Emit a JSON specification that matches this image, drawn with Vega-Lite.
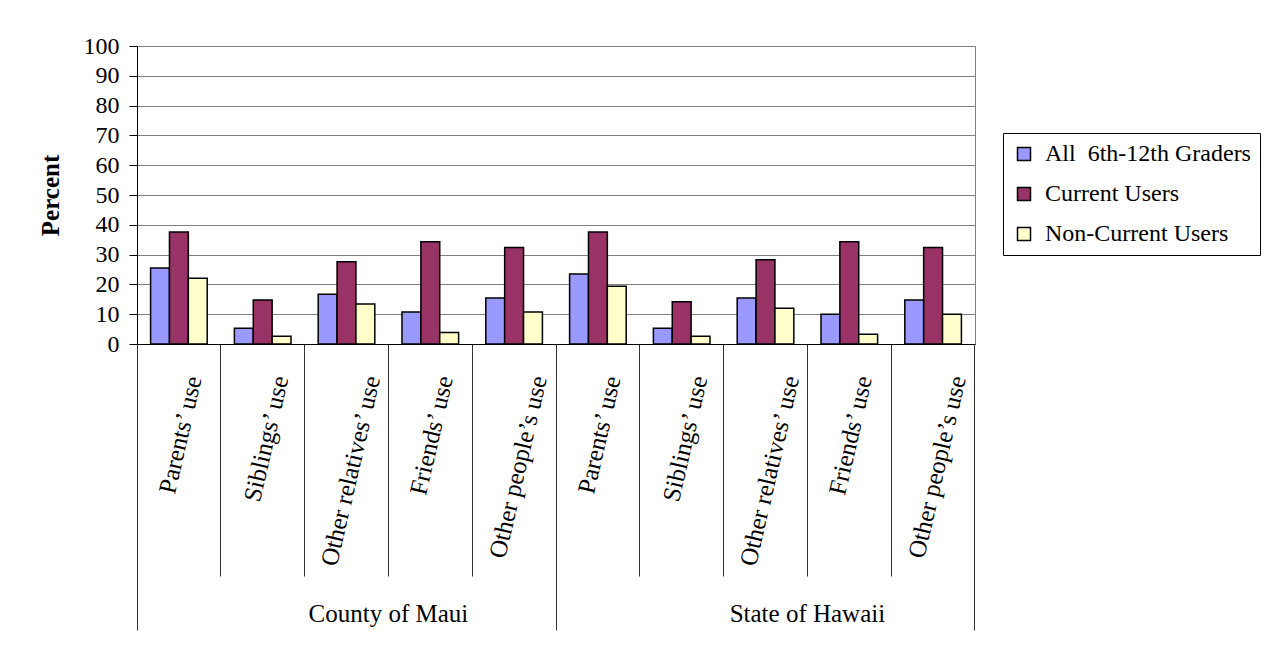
{
  "$schema": "https://vega.github.io/schema/vega-lite/v6.json",
  "width": 838,
  "height": 298,
  "autosize": {"type": "none"},
  "padding": {"left": 137, "top": 46, "right": 293, "bottom": 307},
  "background": "white",
  "config": {
    "view": {"stroke": "#808080", "strokeWidth": 1},
    "font": "Liberation Serif",
    "axis": {"labelFont": "Liberation Serif", "titleFont": "Liberation Serif", "labelColor": "#000", "titleColor": "#000"}
  },
  "data": {
    "values": [
      {"item": "County of Maui|Parents’ use", "series": "All\u00a0 6th-12th Graders", "value": 25.5},
      {"item": "County of Maui|Parents’ use", "series": "Current Users", "value": 37.6},
      {"item": "County of Maui|Parents’ use", "series": "Non-Current Users", "value": 22.1},
      {"item": "County of Maui|Siblings’ use", "series": "All\u00a0 6th-12th Graders", "value": 5.3},
      {"item": "County of Maui|Siblings’ use", "series": "Current Users", "value": 14.8},
      {"item": "County of Maui|Siblings’ use", "series": "Non-Current Users", "value": 2.6},
      {"item": "County of Maui|Other relatives’ use", "series": "All\u00a0 6th-12th Graders", "value": 16.7},
      {"item": "County of Maui|Other relatives’ use", "series": "Current Users", "value": 27.6},
      {"item": "County of Maui|Other relatives’ use", "series": "Non-Current Users", "value": 13.4},
      {"item": "County of Maui|Friends’ use", "series": "All\u00a0 6th-12th Graders", "value": 10.7},
      {"item": "County of Maui|Friends’ use", "series": "Current Users", "value": 34.3},
      {"item": "County of Maui|Friends’ use", "series": "Non-Current Users", "value": 3.9},
      {"item": "County of Maui|Other people’s use", "series": "All\u00a0 6th-12th Graders", "value": 15.4},
      {"item": "County of Maui|Other people’s use", "series": "Current Users", "value": 32.4},
      {"item": "County of Maui|Other people’s use", "series": "Non-Current Users", "value": 10.7},
      {"item": "State of Hawaii|Parents’ use", "series": "All\u00a0 6th-12th Graders", "value": 23.5},
      {"item": "State of Hawaii|Parents’ use", "series": "Current Users", "value": 37.6},
      {"item": "State of Hawaii|Parents’ use", "series": "Non-Current Users", "value": 19.4},
      {"item": "State of Hawaii|Siblings’ use", "series": "All\u00a0 6th-12th Graders", "value": 5.3},
      {"item": "State of Hawaii|Siblings’ use", "series": "Current Users", "value": 14.2},
      {"item": "State of Hawaii|Siblings’ use", "series": "Non-Current Users", "value": 2.6},
      {"item": "State of Hawaii|Other relatives’ use", "series": "All\u00a0 6th-12th Graders", "value": 15.4},
      {"item": "State of Hawaii|Other relatives’ use", "series": "Current Users", "value": 28.3},
      {"item": "State of Hawaii|Other relatives’ use", "series": "Non-Current Users", "value": 12.0},
      {"item": "State of Hawaii|Friends’ use", "series": "All\u00a0 6th-12th Graders", "value": 10.0},
      {"item": "State of Hawaii|Friends’ use", "series": "Current Users", "value": 34.3},
      {"item": "State of Hawaii|Friends’ use", "series": "Non-Current Users", "value": 3.3},
      {"item": "State of Hawaii|Other people’s use", "series": "All\u00a0 6th-12th Graders", "value": 14.8},
      {"item": "State of Hawaii|Other people’s use", "series": "Current Users", "value": 32.4},
      {"item": "State of Hawaii|Other people’s use", "series": "Non-Current Users", "value": 10.0}
    ]
  },
  "resolve": {"axis": {"x": "independent"}},
  "layer": [
    {
      "mark": {"type": "bar", "stroke": "#000", "strokeWidth": 1.5},
      "encoding": {
        "x": {
          "field": "item", "type": "nominal", "sort": null,
          "scale": {"paddingInner": 0, "paddingOuter": 0},
          "axis": {
            "orient": "bottom", "title": null, "bandPosition": 0,
            "domain": true, "domainColor": "#000", "domainWidth": 1,
            "ticks": true, "tickSize": 232, "tickColor": "#333", "tickWidth": 1,
            "grid": false,
            "labelExpr": "split(datum.value, '|')[1]",
            "labelAngle": -77, "labelAlign": "right", "labelBaseline": "middle",
            "labelPadding": -200, "labelFontSize": 25, "labelOverlap": false, "labelLimit": 0,
            "labelOffset": {"expr": "indexof(datum.value, 'Parents') >= 0 ? 15 : indexof(datum.value, 'Siblings') >= 0 ? 18 : indexof(datum.value, 'relatives') >= 0 ? 26 : indexof(datum.value, 'Friends') >= 0 ? 15 : 25"}
          }
        },
        "xOffset": {"field": "series", "type": "nominal", "sort": null, "scale": {"paddingInner": 0, "paddingOuter": 0.72}},
        "y": {
          "field": "value", "type": "quantitative",
          "scale": {"domain": [0, 100], "nice": false},
          "axis": {
            "title": "Percent", "titleFontWeight": "bold", "titleFontSize": 25, "titlePadding": 20,
            "values": [0, 10, 20, 30, 40, 50, 60, 70, 80, 90, 100],
            "grid": true, "gridColor": "#808080", "gridWidth": 1,
            "domainColor": "#000", "domainWidth": 1,
            "tickColor": "#000", "tickSize": 8, "tickWidth": 1,
            "labelFontSize": 24, "labelPadding": 10
          }
        },
        "color": {
          "field": "series", "type": "nominal", "sort": null,
          "scale": {"domain": ["All\u00a0 6th-12th Graders", "Current Users", "Non-Current Users"], "range": ["#9999FF", "#993366", "#FFFFCC"]},
          "legend": {
            "title": null, "orient": "none", "legendX": 866, "legendY": 87,
            "strokeColor": "#000", "fillColor": "#fff", "padding": 9,
            "symbolType": "square", "symbolSize": 169, "symbolStrokeColor": "#000", "symbolStrokeWidth": 1.5, "symbolOpacity": 1,
            "labelFont": "Liberation Serif", "labelFontSize": 24, "labelColor": "#000", "labelOffset": 9, "rowPadding": 16, "labelLimit": 0
          }
        }
      }
    },
    {
      "mark": {"type": "bar", "opacity": 0},
      "encoding": {
        "x": {
          "field": "item", "type": "nominal", "sort": null,
          "axis": {
            "orient": "bottom", "title": null, "bandPosition": 0,
            "values": ["County of Maui|Parents’ use", "State of Hawaii|Parents’ use"],
            "domain": false, "grid": false,
            "ticks": true, "tickSize": 286, "tickColor": "#333", "tickWidth": 1,
            "labelExpr": "split(datum.value, '|')[0]",
            "labelAngle": 0, "labelAlign": "center", "labelBaseline": "middle",
            "labelOffset": 209.5, "labelPadding": -17, "labelFontSize": 25, "labelOverlap": false, "labelLimit": 0
          }
        }
      }
    },
    {
      "mark": {"type": "bar", "opacity": 0},
      "encoding": {
        "x": {
          "field": "item", "type": "nominal", "sort": null,
          "axis": {
            "orient": "bottom", "title": null, "bandPosition": 1,
            "values": ["State of Hawaii|Other people’s use"],
            "domain": false, "grid": false, "labels": false,
            "ticks": true, "tickSize": 286, "tickColor": "#333", "tickWidth": 1
          }
        }
      }
    }
  ]
}
